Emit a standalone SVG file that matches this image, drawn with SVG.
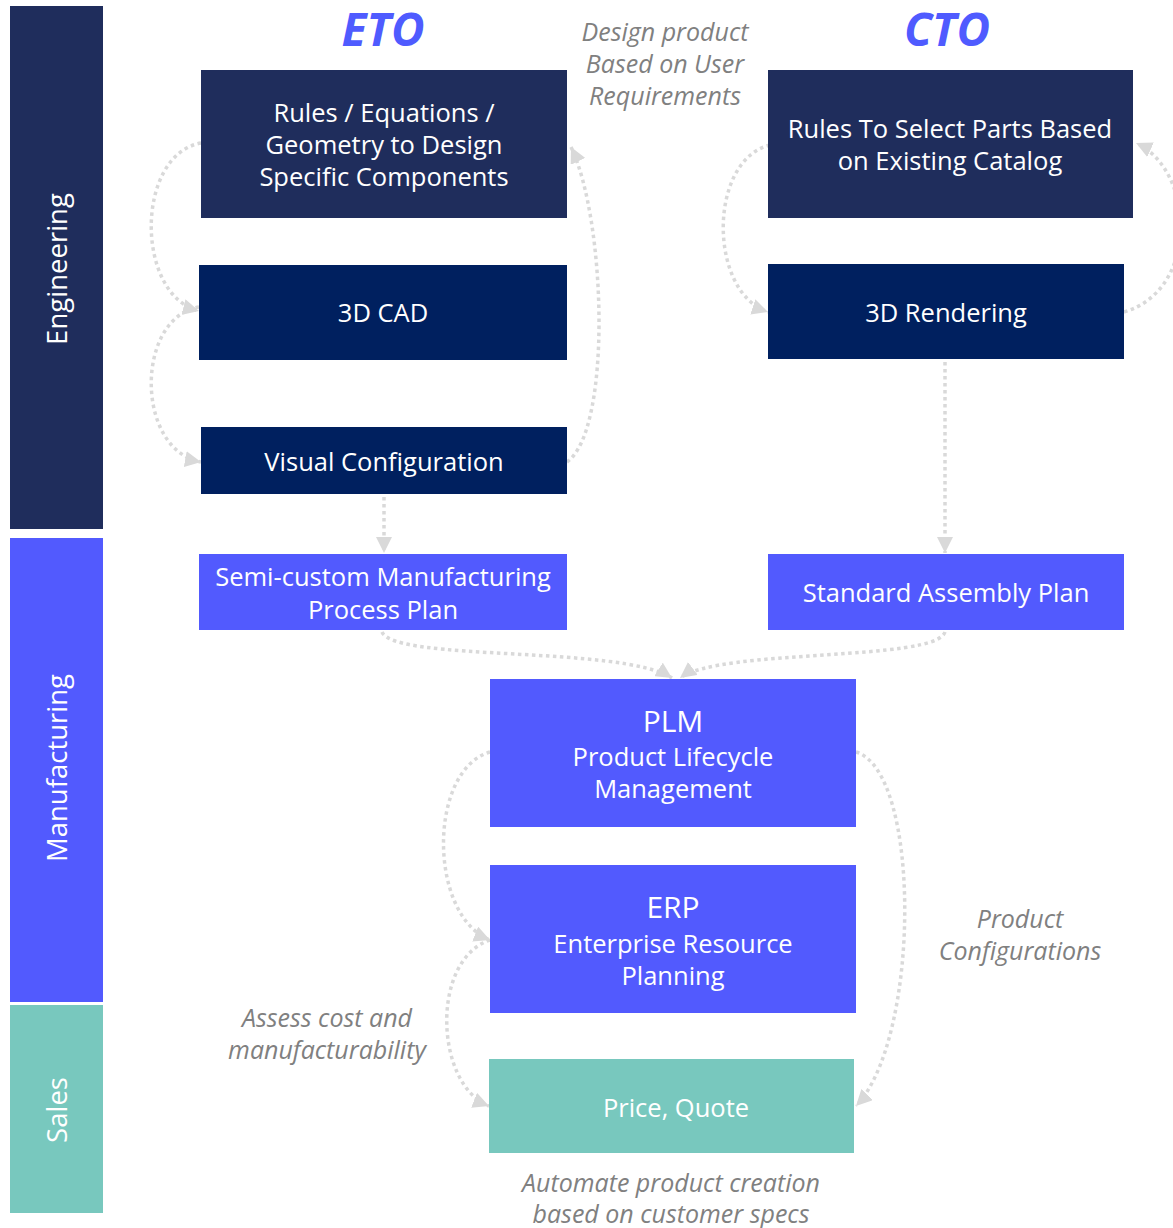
<svg xmlns="http://www.w3.org/2000/svg" width="1173" height="1228" viewBox="0 0 1173 1228">
  <style>
    .lbl { font-family: "Open Sans", "Noto Sans", "Liberation Sans", sans-serif; fill: #ffffff; text-anchor: middle; }
    .n { font-size: 25.5px; }
    .big { font-size: 30px; }
    .note { font-family: "Open Sans", "Noto Sans", "Liberation Sans", sans-serif; font-style: italic; font-size: 25px; fill: #808080; text-anchor: middle; }
    .hdr { font-family: "Open Sans", "Noto Sans", "Liberation Sans", sans-serif; font-style: italic; font-weight: bold; font-size: 46px; fill: #4F5BFF; text-anchor: middle; }
    .lane { font-family: "Open Sans", "Noto Sans", "Liberation Sans", sans-serif; font-size: 27.5px; fill: #ffffff; text-anchor: middle; }
    .eng { fill: #1F2D5C; }
    .navy { fill: #00205F; }
    .blue { fill: #525AFE; }
    .teal { fill: #78C8BE; }
    .link { fill: none; stroke: #D9D9D9; stroke-width: 3.5; stroke-dasharray: 3.5 3.5; marker-end: url(#arrow); }
  </style>
  <defs>
    <marker id="arrow" markerUnits="userSpaceOnUse" markerWidth="18" markerHeight="16" refX="16" refY="8" orient="auto">
      <path d="M0,0 L16,8 L0,16 Z" fill="#D9D9D9"/>
    </marker>
  </defs>

  <rect width="1173" height="1228" fill="#ffffff"/>

  <!-- swim lanes -->
  <g id="lane-engineering">
    <rect x="10" y="6" width="93" height="523" class="eng"/>
    <text class="lane" transform="translate(67,269) rotate(-90)">Engineering</text>
  </g>
  <g id="lane-manufacturing">
    <rect x="10" y="538" width="93" height="464" class="blue"/>
    <text class="lane" transform="translate(67,768) rotate(-90)">Manufacturing</text>
  </g>
  <g id="lane-sales">
    <rect x="10" y="1005" width="93" height="208" class="teal"/>
    <text class="lane" transform="translate(67,1110) rotate(-90)">Sales</text>
  </g>

  <!-- column headers -->
  <text class="hdr" x="383" y="46">ETO</text>
  <text class="hdr" x="947" y="46">CTO</text>

  <!-- annotations -->
  <text class="note" x="665" y="41">Design product</text>
  <text class="note" x="665" y="73">Based on User</text>
  <text class="note" x="665" y="105">Requirements</text>
  <text class="note" x="1020" y="928">Product</text>
  <text class="note" x="1020" y="960">Configurations</text>
  <text class="note" x="327" y="1027">Assess cost and</text>
  <text class="note" x="327" y="1059">manufacturability</text>
  <text class="note" x="671" y="1192">Automate product creation</text>
  <text class="note" x="671" y="1223">based on customer specs</text>

  <!-- connectors -->
  <g id="connectors">
    <path class="link" d="M201,143 C135,155 135,295 199,311"/>
    <path class="link" d="M199,307 C135,318 135,450 201,462"/>
    <path class="link" d="M567,462 C612,430 606,220 571,147"/>
    <path class="link" d="M770,145 C708,160 708,292 768,312"/>
    <path class="link" d="M1124,312 C1200,290 1195,170 1136,143"/>
    <path class="link" d="M384,497 L384,553"/>
    <path class="link" d="M945,362 L945,553"/>
    <path class="link" d="M382,632 C395,662 620,645 672,678"/>
    <path class="link" d="M945,632 C935,662 720,648 680,678"/>
    <path class="link" d="M490,752 C428,770 428,915 490,940"/>
    <path class="link" d="M490,940 C430,960 435,1085 489,1106"/>
    <path class="link" d="M856,752 C922,772 920,1040 856,1106"/>
  </g>

  <!-- ETO column -->
  <g id="eto-rules">
    <rect x="201" y="70" width="366" height="148" class="eng"/>
    <text class="lbl n" x="384" y="122">Rules / Equations /</text>
    <text class="lbl n" x="384" y="154">Geometry to Design</text>
    <text class="lbl n" x="384" y="186">Specific Components</text>
  </g>
  <g id="eto-cad">
    <rect x="199" y="265" width="368" height="95" class="navy"/>
    <text class="lbl n" x="383" y="322">3D CAD</text>
  </g>
  <g id="eto-visual">
    <rect x="201" y="427" width="366" height="67" class="navy"/>
    <text class="lbl n" x="384" y="471">Visual Configuration</text>
  </g>
  <g id="eto-plan">
    <rect x="199" y="554" width="368" height="76" class="blue"/>
    <text class="lbl n" x="383" y="586">Semi-custom Manufacturing</text>
    <text class="lbl n" x="383" y="619">Process Plan</text>
  </g>

  <!-- CTO column -->
  <g id="cto-rules">
    <rect x="768" y="70" width="365" height="148" class="eng"/>
    <text class="lbl n" x="950" y="138">Rules To Select Parts Based</text>
    <text class="lbl n" x="950" y="170">on Existing Catalog</text>
  </g>
  <g id="cto-render">
    <rect x="768" y="264" width="356" height="95" class="navy"/>
    <text class="lbl n" x="946" y="322">3D Rendering</text>
  </g>
  <g id="cto-plan">
    <rect x="768" y="554" width="356" height="76" class="blue"/>
    <text class="lbl n" x="946" y="602">Standard Assembly Plan</text>
  </g>

  <!-- shared systems -->
  <g id="plm">
    <rect x="490" y="679" width="366" height="148" class="blue"/>
    <text class="lbl big" x="673" y="732">PLM</text>
    <text class="lbl n" x="673" y="766">Product Lifecycle</text>
    <text class="lbl n" x="673" y="798">Management</text>
  </g>
  <g id="erp">
    <rect x="490" y="865" width="366" height="148" class="blue"/>
    <text class="lbl big" x="673" y="918">ERP</text>
    <text class="lbl n" x="673" y="953">Enterprise Resource</text>
    <text class="lbl n" x="673" y="985">Planning</text>
  </g>
  <g id="price">
    <rect x="489" y="1059" width="365" height="94" class="teal"/>
    <text class="lbl n" x="676" y="1117">Price, Quote</text>
  </g>
</svg>
